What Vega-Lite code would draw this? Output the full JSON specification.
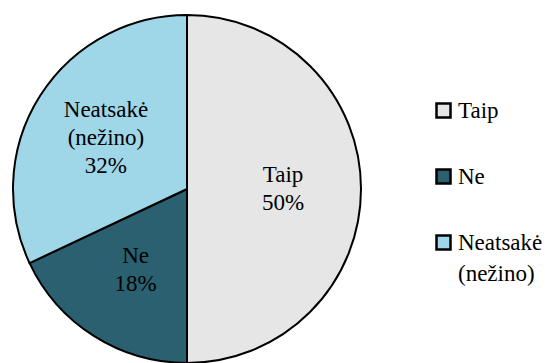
{
  "$schema": "https://vega.github.io/schema/vega-lite/v6.json",
  "width": 374,
  "height": 378,
  "padding": 0,
  "autosize": {"type": "pad"},
  "background": "white",
  "config": {
    "style": {"guide-label": {"lineHeight": 31}}
  },
  "data": {
    "values": [
      {"answer": "Taip", "pct": 50, "order": 1, "lines": ["Taip", "50%"]},
      {"answer": "Ne", "pct": 18, "order": 2, "lines": ["Ne", "18%"]},
      {"answer": "Neatsakė (nežino)", "pct": 32, "order": 3, "lines": ["Neatsakė", "(nežino)", "32%"]}
    ]
  },
  "encoding": {
    "theta": {"field": "pct", "type": "quantitative", "stack": true},
    "order": {"field": "order", "type": "quantitative"}
  },
  "layer": [
    {
      "mark": {"type": "arc", "outerRadius": 174, "stroke": "black", "strokeWidth": 2},
      "encoding": {
        "color": {
          "field": "answer",
          "type": "nominal",
          "sort": ["Taip", "Ne", "Neatsakė (nežino)"],
          "scale": {
            "domain": ["Taip", "Ne", "Neatsakė (nežino)"],
            "range": ["#e6e6e6", "#2b6070", "#9fd6e8"]
          },
          "legend": {
            "title": null,
            "orient": "none",
            "legendX": 432,
            "legendY": 99,
            "symbolType": "square",
            "symbolSize": 196,
            "symbolStrokeColor": "black",
            "symbolStrokeWidth": 2.5,
            "symbolOpacity": 1,
            "labelFont": "Liberation Serif, Times New Roman, serif",
            "labelFontSize": 23,
            "labelColor": "black",
            "labelOffset": 3,
            "labelLimit": 200,
            "rowPadding": 41,
            "labelExpr": "datum.label == 'Neatsakė (nežino)' ? ['Neatsakė', '(nežino)'] : datum.label"
          }
        }
      }
    },
    {
      "mark": {
        "type": "text",
        "radius": 96,
        "font": "Liberation Serif, Times New Roman, serif",
        "fontSize": 23,
        "lineHeight": 28,
        "color": "black",
        "align": "center",
        "baseline": "middle",
        "dy": {"expr": "-(length(datum.lines) - 1) * 14"}
      },
      "encoding": {
        "text": {"field": "lines"}
      }
    }
  ]
}
